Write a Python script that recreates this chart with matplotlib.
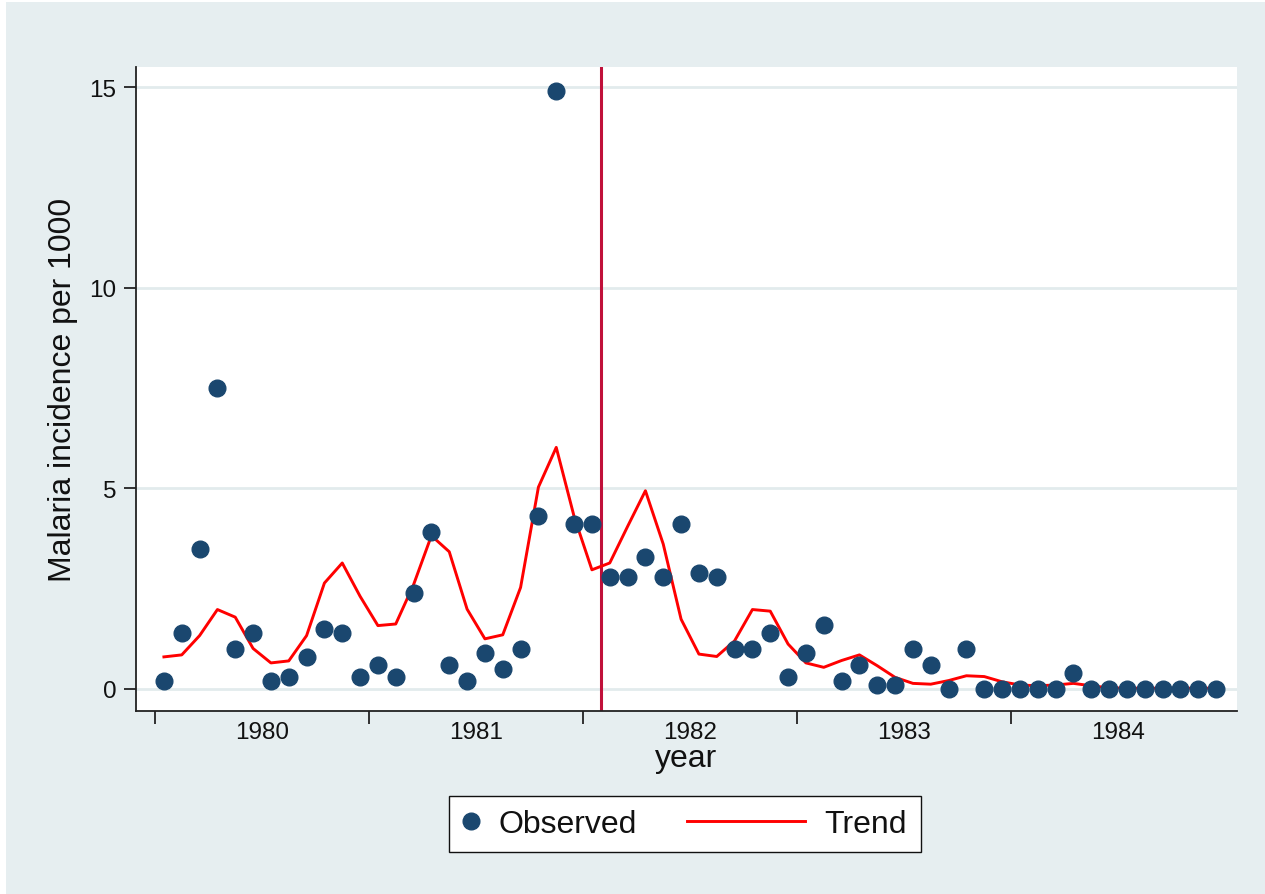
import numpy as np
import pandas as pd
import matplotlib
matplotlib.use("Agg")
import matplotlib.pyplot as plt
from matplotlib.patches import Rectangle
from matplotlib.legend_handler import HandlerLine2D

plt.rcParams['font.family'] = ['Liberation Sans', 'DejaVu Sans']

# ---- data ----
periods = pd.period_range("1980-01", "1984-12", freq="M")
observed = [0.2, 1.4, 3.5, 7.5, 1.0, 1.4, 0.2, 0.3, 0.8, 1.5, 1.4, 0.3,
            0.6, 0.3, 2.4, 3.9, 0.6, 0.2, 0.9, 0.5, 1.0, 4.3, 14.9, 4.1,
            4.1, 2.8, 2.8, 3.3, 2.8, 4.1, 2.9, 2.8, 1.0, 1.0, 1.4, 0.3,
            0.9, 1.6, 0.2, 0.6, 0.1, 0.1, 1.0, 0.6, 0.0, 1.0, 0.0, 0.0,
            0.0, 0.0, 0.0, 0.4, 0.0, 0.0, 0.0, 0.0, 0.0, 0.0, 0.0, 0.0]
trend = [0.80, 0.85, 1.33, 1.98, 1.79, 1.01, 0.65, 0.70, 1.33, 2.64, 3.14, 2.31,
         1.58, 1.62, 2.60, 3.82, 3.42, 1.99, 1.25, 1.35, 2.53, 5.03, 6.02, 4.30,
         2.97, 3.14, 4.05, 4.94, 3.61, 1.74, 0.87, 0.81, 1.20, 1.98, 1.94, 1.12,
         0.65, 0.54, 0.71, 0.85, 0.58, 0.29, 0.14, 0.12, 0.21, 0.33, 0.31, 0.18,
         0.10, 0.08, 0.10, 0.14, 0.08, 0.03, 0.02, 0.02, 0.02, 0.02, 0.02, 0.02]
year_labels = ["1980", "1981", "1982", "1983", "1984"]
y_ticks = [0, 5, 10, 15]
intervention = 1982 + 1 / 12

x = periods.year + (periods.month - 0.5) / 12.0

BG = '#e6eef0'
NAVY = '#1a476f'

fig = plt.figure(figsize=(12.65, 8.95), dpi=100, facecolor='white')
fig.patches.append(Rectangle((6 / 1265, 0), 1 - 6 / 1265, 1 - 3 / 895,
                             transform=fig.transFigure, facecolor=BG,
                             edgecolor='none', zorder=-10))

ax = fig.add_axes([136 / 1265, 1 - 712 / 895, (1237 - 136) / 1265, (712 - 68) / 895])
ax.set_facecolor('white')

for yv in y_ticks:
    ax.axhline(yv, color='#e2ebed', lw=2.0, zorder=0)

ax.axvline(intervention, color='#c0103a', lw=2.2, zorder=1)
ax.plot(x, trend, color='#ff0000', lw=2.1, zorder=2, label='Trend')
ax.plot(x, observed, linestyle='none', marker='o', ms=12, color=NAVY,
        markeredgecolor=NAVY, zorder=3, label='Observed')

x0 = 1980 - 19 / 214
ax.set_xlim(x0, x0 + 1101 / 214)
ax.set_ylim(-22 / 40.133, 622 / 40.133)

ax.spines['top'].set_visible(False)
ax.spines['right'].set_visible(False)
for s in ('left', 'bottom'):
    ax.spines[s].set_color('#222222')
    ax.spines[s].set_linewidth(1.3)

years = [int(v) for v in year_labels]
ax.set_xticks(years)
ax.set_xticklabels([])
ax.set_xticks([yr + 0.5 for yr in years], minor=True)
ax.set_xticklabels(year_labels, minor=True)
ax.tick_params(axis='x', which='major', length=9, width=1.3, color='#222222')
ax.tick_params(axis='x', which='minor', length=0, pad=7, labelsize=17.5, labelcolor='#111111')
ax.set_yticks(y_ticks)
ax.set_yticklabels([str(v) for v in y_ticks])
ax.tick_params(axis='y', length=9, width=1.3, color='#222222', pad=5,
               labelsize=17.5, labelcolor='#111111')

ax.set_xlabel('year', fontsize=23, color='#111111', labelpad=0)
ax.set_ylabel('Malaria incidence per 1000', fontsize=23, color='#111111', labelpad=8)


class LongLeftLine(HandlerLine2D):
    def __init__(self, extra, **kw):
        super().__init__(**kw)
        self.extra = extra

    def get_xdata(self, legend, xdescent, ydescent, width, height, fontsize):
        xd, xm = super().get_xdata(legend, xdescent, ydescent, width, height, fontsize)
        xd = np.array([-xdescent - self.extra * fontsize, -xdescent + width])
        return xd, xm


handles, labels = ax.get_legend_handles_labels()
order = [labels.index('Observed'), labels.index('Trend')]
handles = [handles[i] for i in order]
labels = [labels[i] for i in order]
leg = fig.legend(handles, labels, loc='center', ncol=2,
                 bbox_to_anchor=(685 / 1265, 1 - 825 / 895),
                 fontsize=23, frameon=True, fancybox=False,
                 edgecolor='#111111', facecolor='white', framealpha=1,
                 handlelength=0.5, handletextpad=0.62, columnspacing=4.76,
                 borderpad=0.42, borderaxespad=0,
                 handler_map={handles[1]: LongLeftLine(extra=3.2)})
leg.get_frame().set_linewidth(1.0)
for t in leg.get_texts():
    t.set_color('#111111')

fig.savefig('out.png', dpi=100, facecolor=fig.get_facecolor())
